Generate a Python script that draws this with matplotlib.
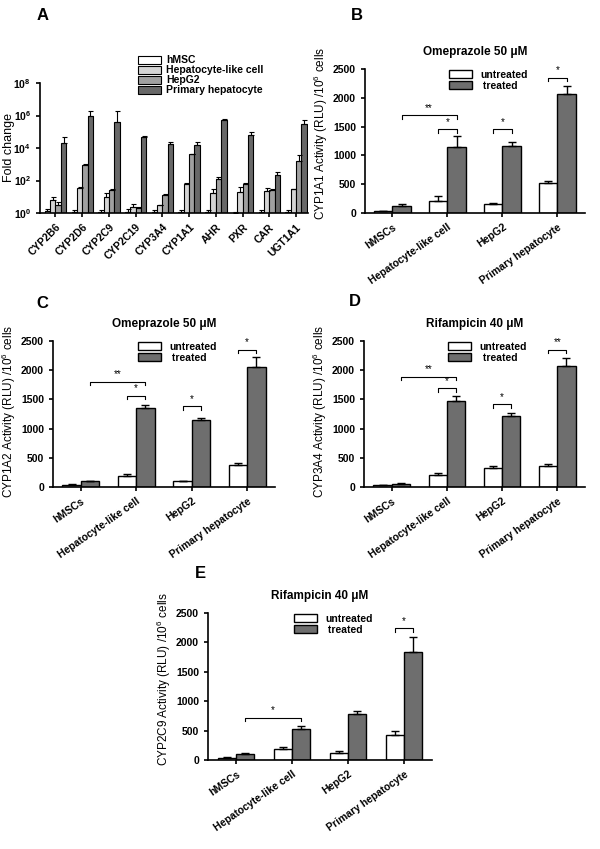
import matplotlib
matplotlib.use('Agg')
import matplotlib.pyplot as plt
import numpy as np
from matplotlib.patches import Patch

plt.rcParams['font.family'] = ['Liberation Sans', 'DejaVu Sans']
plt.rcParams['mathtext.default'] = 'regular'

# Panel A: fold change (log scale)
genes = ['CYP2B6', 'CYP2D6', 'CYP2C9', 'CYP2C19', 'CYP3A4', 'CYP1A1', 'AHR', 'PXR', 'CAR', 'UGT1A1']
a_series = ['hMSC', 'Hepatocyte-like cell', 'HepG2', 'Primary hepatocyte']
a_hmsc = [1.3, 1.2, 1.2, 1.2, 1.2, 1.2, 1.2, 1.0, 1.1, 1.2]
a_hlc = [6, 35, 10, 2.5, 3, 60, 18, 20, 22, 30]
a_hepg2 = [3, 900, 25, 2, 13, 4000, 120, 65, 25, 1600]
a_ph = [2e4, 1e6, 4e5, 5e4, 1.8e4, 1.5e4, 5.5e5, 6.5e4, 220, 3e5]
a_hmsc_err = [0.4, 0.4, 0.4, 0.5, 0.4, 0.4, 0.4, 0.1, 0.4, 0.4]
a_hlc_err = [3, 3, 8, 1.0, 0.3, 15, 10, 20, 13, 2]
a_hepg2_err = [1.5, 100, 3, 0.2, 1, 300, 40, 5, 3, 2200]
a_ph_err = [2.5e4, 1e6, 1.4e6, 5e3, 4e3, 7e3, 2e4, 2.5e4, 100, 2e5]

groups = ['hMSCs', 'Hepatocyte-like cell', 'HepG2', 'Primary hepatocyte']

# Panel B: CYP1A1, Omeprazole
b_untr = [30, 200, 160, 520]
b_untr_err = [10, 90, 12, 30]
b_trt = [130, 1140, 1160, 2070]
b_trt_err = [25, 190, 80, 135]

# Panel C: CYP1A2, Omeprazole
c_untr = [35, 185, 95, 375]
c_untr_err = [10, 30, 10, 30]
c_trt = [95, 1360, 1150, 2060]
c_trt_err = [12, 50, 35, 170]

# Panel D: CYP3A4, Rifampicin
d_untr = [30, 205, 320, 360]
d_untr_err = [8, 35, 35, 35]
d_trt = [50, 1480, 1210, 2080]
d_trt_err = [15, 80, 60, 125]

# Panel E: CYP2C9, Rifampicin
e_untr = [40, 185, 120, 425]
e_untr_err = [10, 40, 30, 60]
e_trt = [100, 530, 775, 1840]
e_trt_err = [15, 55, 60, 260]

W, H = 600, 849
fig = plt.figure(figsize=(W / 100, H / 100), dpi=100)


def ax_px(l, t, r, b):
    ax = fig.add_axes([l / W, 1 - b / H, (r - l) / W, (b - t) / H])
    ax._wpx = r - l
    return ax


def style(ax):
    for s in ['top', 'right']:
        ax.spines[s].set_visible(False)
    for s in ['left', 'bottom']:
        ax.spines[s].set_linewidth(1.2)
    ax.tick_params(width=1.2, length=3, labelsize=7.5)
    for lab in ax.get_yticklabels():
        lab.set_fontweight('bold')


# ---- A ----
axA = ax_px(40, 83, 308, 213)
x = np.arange(len(genes))
bw = 0.2
cols = ['white', '#d4d4d4', '#a0a0a0', '#686868']
vals = [a_hmsc, a_hlc, a_hepg2, a_ph]
errs = [a_hmsc_err, a_hlc_err, a_hepg2_err, a_ph_err]
for i in range(4):
    xi = x + (i - 1.5) * bw
    axA.bar(xi, vals[i], bw, color=cols[i], edgecolor='black', linewidth=0.8)
    axA.errorbar(xi, vals[i], yerr=[np.zeros(len(genes)), errs[i]], fmt='none',
                 ecolor='black', elinewidth=0.8, capsize=1.8, capthick=0.8)
axA.set_yscale('log')
axA.set_ylim(1, 1e8)
axA.set_yticks([1, 1e2, 1e4, 1e6, 1e8])
axA.minorticks_off()
axA.set_xlim(-0.58, 9.45)
axA.set_xticks(x)
axA.set_xticklabels(genes, rotation=45, ha='right', rotation_mode='anchor', fontsize=7, fontweight='bold')
style(axA)
axA.set_ylabel('Fold change', fontsize=9)
axA.yaxis.set_label_coords(-25 / axA._wpx, 0.5)
handles = [Patch(facecolor=c, edgecolor='black', linewidth=0.8) for c in cols]
fig.legend(handles, a_series, loc='upper left', bbox_to_anchor=(133 / W, 1 - 50 / H), frameon=False,
           prop={'size': 7.5, 'weight': 'bold'}, handlelength=2.2, handleheight=0.8, labelspacing=0.0,
           borderpad=0, handletextpad=0.5)
fig.text(43 / W, 1 - 15 / H, 'A', fontsize=12, fontweight='bold', ha='center', va='center')


def bracket(ax, x1, x2, h, label, d=60):
    ax.plot([x1, x1, x2, x2], [h - d, h, h, h - d], color='black', lw=0.8)
    ax.text((x1 + x2) / 2, h + 40, label, ha='center', va='bottom', fontsize=7)


def activity(ax, untr, untr_err, trt, trt_err, ylabel, title, sig, ly=0.55):
    g = np.arange(len(groups))
    w = 0.33
    ax.bar(g - w / 2, untr, w, color='white', edgecolor='black', linewidth=1.0, label='untreated')
    ax.bar(g + w / 2, trt, w, color='#6e6e6e', edgecolor='black', linewidth=1.0, label=' treated')
    ax.errorbar(g - w / 2, untr, yerr=[np.zeros(4), untr_err], fmt='none', ecolor='black',
                elinewidth=1.0, capsize=3, capthick=1.0)
    ax.errorbar(g + w / 2, trt, yerr=[np.zeros(4), trt_err], fmt='none', ecolor='black',
                elinewidth=1.0, capsize=3, capthick=1.0)
    ax.set_xlim(-0.5, 3.5)
    ax.set_ylim(0, 2500)
    ax.set_yticks([0, 500, 1000, 1500, 2000, 2500])
    ax.set_xticks(g)
    ax.set_xticklabels(groups, rotation=35, ha='right', rotation_mode='anchor', fontsize=7, fontweight='bold')
    ax.set_ylabel(ylabel, fontsize=8.5)
    ax.yaxis.set_label_coords(-35 / ax._wpx, ly)
    ax.set_title(title, fontsize=8.5, fontweight='bold', pad=10)
    style(ax)
    ax.legend(loc='upper center', bbox_to_anchor=(0.56, 1.03), frameon=False,
              handlelength=2.2, handleheight=0.8, labelspacing=0.1, borderpad=0,
              prop={'size': 7.5, 'weight': 'bold'})
    for (x1, x2, h, lab) in sig:
        bracket(ax, x1, x2, h, lab)


w2 = 0.33 / 2

axB = ax_px(365, 69, 585, 213)
activity(axB, b_untr, b_untr_err, b_trt, b_trt_err, r'CYP1A1 Activity (RLU) /10$^6$ cells',
         'Omeprazole 50 μM',
         [(w2, 1 + w2, 1700, '**'), (1 - w2, 1 + w2, 1450, '*'), (2 - w2, 2 + w2, 1450, '*'),
          (3 - w2, 3 + w2, 2350, '*')])
fig.text(357 / W, 1 - 15 / H, 'B', fontsize=12, fontweight='bold', ha='center', va='center')

axC = ax_px(53, 341, 275, 487)
activity(axC, c_untr, c_untr_err, c_trt, c_trt_err, r'CYP1A2 Activity (RLU) /10$^6$ cells',
         'Omeprazole 50 μM',
         [(w2, 1 + w2, 1800, '**'), (1 - w2, 1 + w2, 1560, '*'), (2 - w2, 2 + w2, 1380, '*'),
          (3 - w2, 3 + w2, 2350, '*')], ly=0.52)
fig.text(42 / W, 1 - 303 / H, 'C', fontsize=12, fontweight='bold', ha='center', va='center')

axD = ax_px(364, 341, 585, 487)
activity(axD, d_untr, d_untr_err, d_trt, d_trt_err, r'CYP3A4 Activity (RLU) /10$^6$ cells',
         'Rifampicin 40 μM',
         [(w2, 1 + w2, 1890, '**'), (1 - w2, 1 + w2, 1690, '*'), (2 - w2, 2 + w2, 1420, '*'),
          (3 - w2, 3 + w2, 2350, '**')], ly=0.52)
fig.text(355 / W, 1 - 302 / H, 'D', fontsize=12, fontweight='bold', ha='center', va='center')

axE = ax_px(208, 613, 432, 760)
activity(axE, e_untr, e_untr_err, e_trt, e_trt_err, r'CYP2C9 Activity (RLU) /10$^6$ cells',
         'Rifampicin 40 μM',
         [(w2, 1 + w2, 720, '*'), (3 - w2, 3 + w2, 2240, '*')])
fig.text(200 / W, 1 - 573 / H, 'E', fontsize=12, fontweight='bold', ha='center', va='center')

fig.savefig('out.png', dpi=100)
